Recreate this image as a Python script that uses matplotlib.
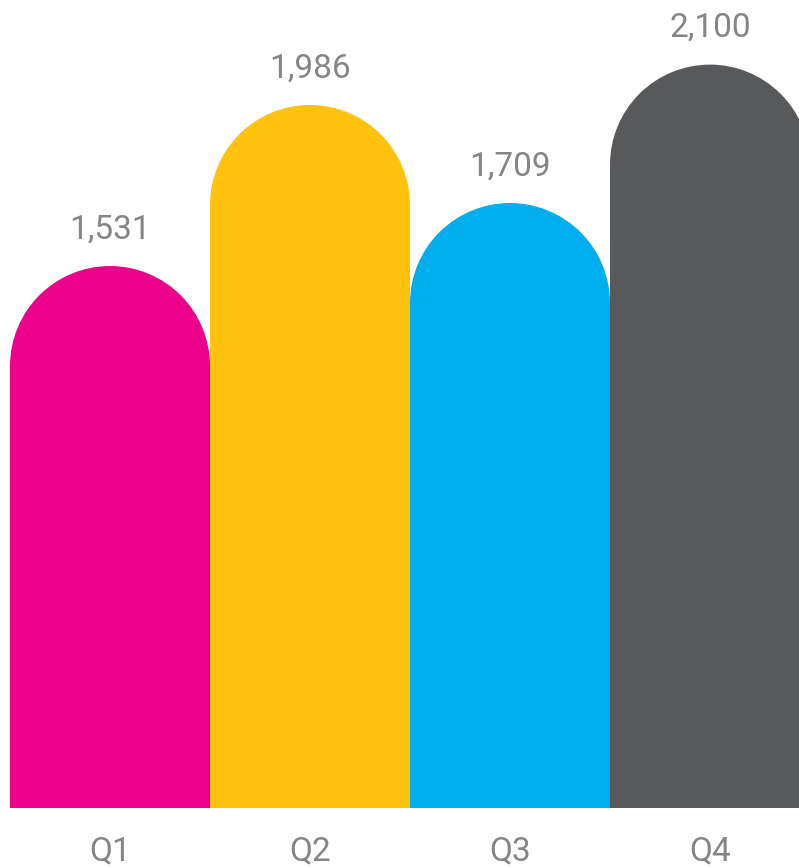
import matplotlib.pyplot as plt
from matplotlib.patches import Ellipse

quarters = ['Q1', 'Q2', 'Q3', 'Q4']
values = [1531, 1986, 1709, 2100]
colors = ['#EC008C', '#FFC20E', '#00AEEF', '#58595B']
value_labels = ['1,531', '1,986', '1,709', '2,100']

W, H, DPI = 799, 868, 100
fig = plt.figure(figsize=(W / DPI, H / DPI), dpi=DPI)
ax = fig.add_axes([0, 0, 1, 1])

# pixel scale: 200 px per bar, ~0.354 px per unit
px_x = 200.0
px_y = 0.354
base_px = 60  # bottom of bars from bottom of image
x0 = -0.5 - 10 / px_x
ax.set_xlim(x0, x0 + W / px_x)
ax.set_ylim(-base_px / px_y, (H - base_px) / px_y)
ax.axis('off')

# semicircle tops: radius half the bar width
ry = 0.5 * px_x / px_y

for i, (v, c) in enumerate(zip(values, colors)):
    ax.bar(i, v - ry, width=1.0, bottom=0, color=c, edgecolor='none')
    ax.add_patch(Ellipse((i, v - ry), 1.0, 2 * ry, color=c, ec='none'))

txt = '#858587'
for i, (v, lab) in enumerate(zip(values, value_labels)):
    ax.annotate(lab, (i, v), xytext=(0, 20), textcoords='offset points',
                ha='center', va='baseline', fontsize=24, color=txt,
                family='Roboto', fontweight='normal')

for i, q in enumerate(quarters):
    ax.annotate(q, (i, 8), xycoords=('data', 'figure pixels'),
                ha='center', va='baseline', fontsize=24, color=txt,
                family='Roboto', fontweight='normal')

fig.savefig('out.png', dpi=DPI)
